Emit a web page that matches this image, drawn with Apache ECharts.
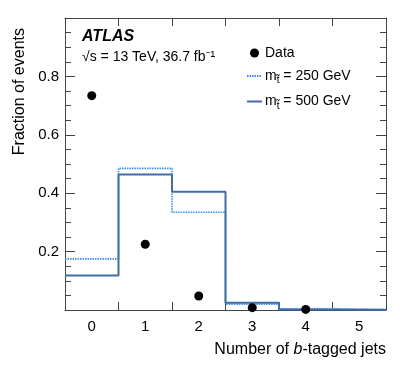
<!DOCTYPE html>
<html>
<head>
<meta charset="utf-8">
<script src="https://cdn.jsdelivr.net/npm/echarts@6/dist/echarts.min.js"></script>
<style>
  html, body { margin: 0; padding: 0; background: #fff; }
  #main { width: 407px; height: 369px; }
</style>
</head>
<body>
<div id="main"></div>
<script>
// bins: number of b-tagged jets
var nJets = ['0', '1', '2', '3', '4', '5'];
var binEdges = [-0.5, 0.5, 1.5, 2.5, 3.5, 4.5, 5.5];
// data points (bins 0..4)
var dataX = [0, 1, 2, 3, 4];
var dataY = [0.734, 0.225, 0.048, 0.008, 0.002];
// signal templates
var stop250 = [0.175, 0.485, 0.335, 0.020, 0.004, 0.001];
var stop500 = [0.118, 0.464, 0.405, 0.025, 0.002, 0.001];
var yTicks = [0.2, 0.4, 0.6, 0.8];

var FONT = 'Liberation Sans, Arial, sans-serif';

// histogram outline as step points (left edge of each bin + closing edge)
function stepPoints(vals) {
  var pts = [];
  for (var i = 0; i < vals.length; i++) pts.push([binEdges[i], vals[i]]);
  pts.push([binEdges[vals.length], vals[vals.length - 1]]);
  return pts;
}

var myChart = echarts.init(document.getElementById('main'));

var axisLineStyle = { color: '#444', width: 1 };

function xFrame(pos) {
  return {
    type: 'value', min: -0.5, max: 5.5, interval: 1, position: pos,
    axisLine: { onZero: false, lineStyle: axisLineStyle },
    axisTick: { inside: true, length: 8, lineStyle: axisLineStyle },
    axisLabel: { show: false },
    splitLine: { show: false }
  };
}
function yFrame(pos, labels) {
  return {
    type: 'value', min: 0, max: 1, interval: 0.2, position: pos,
    axisLine: { show: true, onZero: false, lineStyle: axisLineStyle },
    axisTick: { show: true, inside: true, length: 10, lineStyle: axisLineStyle },
    minorTick: { show: true, splitNumber: 4, length: 6, lineStyle: axisLineStyle },
    axisLabel: {
      show: labels,
      fontFamily: FONT, fontSize: 15, color: '#000', margin: 6,
      formatter: function (v) {
        for (var i = 0; i < yTicks.length; i++) {
          if (Math.abs(v - yTicks[i]) < 1e-6) return yTicks[i].toFixed(1);
        }
        return '';
      }
    },
    splitLine: { show: false }
  };
}

myChart.setOption({
  animation: false,
  grid: { left: 65, right: 21, top: 18, bottom: 59 },
  legend: {
    orient: 'vertical',
    left: 246,
    top: 46,
    padding: 0,
    itemWidth: 15,
    itemHeight: 9,
    itemGap: 9,
    data: [
      { name: 'Data' },
      { name: 'm250', itemStyle: { opacity: 0 } },
      { name: 'm500', itemStyle: { opacity: 0 } }
    ],
    textStyle: {
      fontFamily: FONT, fontSize: 14, color: '#000', padding: [0, 0, 0, -2],
      rich: {
        sub: { fontFamily: FONT, fontSize: 10, color: '#000', padding: [9, 0, 0, 0] }
      }
    },
    formatter: function (name) {
      if (name === 'm250') return 'm{sub|t\u0303} = 250 GeV';
      if (name === 'm500') return 'm{sub|t\u0303} = 500 GeV';
      return name;
    }
  },
  xAxis: [
    xFrame('bottom'),
    xFrame('top'),
    {
      type: 'category', data: nJets, position: 'bottom', boundaryGap: true,
      axisLine: { show: false, onZero: false },
      axisTick: { show: false },
      axisLabel: { fontFamily: FONT, fontSize: 15, color: '#000', margin: 9 },
      splitLine: { show: false }
    }
  ],
  yAxis: [
    yFrame('left', true),
    yFrame('right', false)
  ],
  graphic: [
    {
      type: 'text', left: 82, top: 29,
      style: { text: 'ATLAS', font: 'italic bold 16px ' + FONT, fill: '#000' }
    },
    {
      type: 'text', left: 82, top: 50,
      style: { text: '\u221As = 13 TeV, 36.7 fb\u207B\u00B9', font: '14px ' + FONT, fill: '#000' }
    },
    {
      type: 'text', x: 20, y: 28, rotation: Math.PI / 2,
      style: {
        text: 'Fraction of events', font: '16px ' + FONT, fill: '#000',
        align: 'right', verticalAlign: 'middle'
      }
    },
    {
      type: 'text', x: 386, y: 350,
      style: {
        text: 'Number of {it|b}-tagged jets', font: '16px ' + FONT, fill: '#000',
        align: 'right', verticalAlign: 'middle',
        rich: { it: { font: 'italic 16px ' + FONT, fill: '#000' } }
      }
    }
  ],
  series: [
    {
      name: 'm250', type: 'line', step: 'end', xAxisIndex: 0, yAxisIndex: 0,
      symbol: 'none', showSymbol: false,
      itemStyle: { color: '#3a8df2' },
      lineStyle: { color: '#3a8df2', width: 1.6, type: [1.5, 1] },
      data: stepPoints(stop250), z: 2
    },
    {
      name: 'm500', type: 'line', step: 'end', xAxisIndex: 0, yAxisIndex: 0,
      symbol: 'none', showSymbol: false,
      itemStyle: { color: '#3f6ea6' },
      lineStyle: { color: '#3f6ea6', width: 2 },
      data: stepPoints(stop500), z: 3
    },
    {
      name: 'Data', type: 'scatter', xAxisIndex: 0, yAxisIndex: 0,
      symbol: 'circle', symbolSize: 9,
      itemStyle: { color: '#000', opacity: 1 },
      data: dataX.map(function (x, i) { return [x, dataY[i]]; }), z: 4
    }
  ]
});
</script>
</body>
</html>
